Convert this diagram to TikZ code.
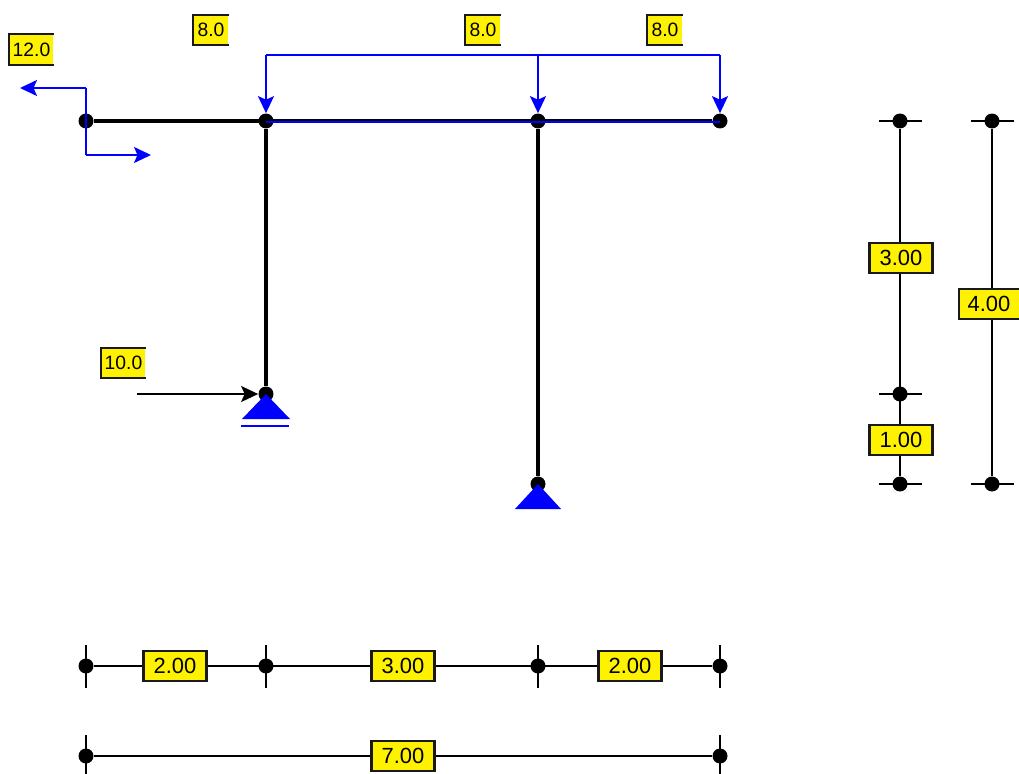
\documentclass[tikz,border=0pt]{standalone}
\usepackage{fontspec}
\setmainfont{Liberation Sans}
\usetikzlibrary{arrows.meta,calc}
\tikzset{
  joint/.style={circle, fill=black, inner sep=0, minimum size=.3cm},
  dimlabel/.style={draw=black!90, line width=1.3pt, fill=yellow, inner sep=0, minimum width=1.26cm, minimum height=.6cm, font=\fontsize{12.5}{13}\selectfont},
  loadlabel/.style={fill=yellow, inner sep=0, minimum width=.88cm, minimum height=.6cm, font=\fontsize{11}{12}\selectfont},
  shortlabel/.style={loadlabel, minimum width=.7cm},
  openedge/.style={draw=black!90, line width=1.3pt},
  member/.style={line width=2.3pt},
  dimline/.style={line width=1.1pt, black},
  loadline/.style={line width=1.1pt, blue, ->},
  support/.style={fill=blue}
}
\begin{document}
\begin{tikzpicture}[x=.02cm, y=-.02cm, >={Stealth[length=.34cm, width=.32cm, inset=.07cm]}]
\useasboundingbox (0, 0) rectangle (1019, 774);
% frame joints
\node [joint] (a) at (86, 121) {};
\node [joint] (b) at (266, 121) {};
\node [joint] (c) at (538, 121) {};
\node [joint] (d) at (720, 121) {};
\node [joint] (e) at (266, 394) {};
\node [joint] (f) at (538, 484) {};
% members
\draw [member] (a) -- (d);
\draw [member] (b) -- (e);
\draw [member] (c) -- (f);
% supports
\fill [support] (e.center) -- ++(24, 25) -- ++(-48, 0) -- cycle;
\draw [blue, line width=1.1pt] (241, 426) -- (289, 426);
\fill [support] (f.center) -- ++(23, 25) -- ++(-46, 0) -- cycle;
% loads
\coordinate (top b) at (266, 55);
\coordinate (top c) at (538, 55);
\coordinate (top d) at (720, 55);
\coordinate (left top) at (86, 88);
\coordinate (left bot) at (86, 155);
\coordinate (left end) at (20, 88);
\coordinate (right end) at (151, 155);
\coordinate (push) at (137, 394);
\draw [blue, line width=1.1pt] ($(b.center) + (0, 1)$) -- ($(d.center) + (0, 1)$);
\draw [blue, line width=1.1pt] (top b) -- (top d);
\draw [loadline] (top b) -- (b.north);
\draw [loadline] (top c) -- (c.north);
\draw [loadline] (top d) -- (d.north);
\draw [blue, line width=1.1pt] (left top) -- (left bot);
\draw [loadline] (left top) -- (left end);
\draw [loadline] (left bot) -- (right end);
\draw [dimline, ->] (push) -- (e.west);
% load labels
\node [loadlabel] (load a) at (31.5, 49.5) {12.0};
\node [shortlabel] (load b) at (211, 30) {8.0};
\node [shortlabel] (load c) at (483, 30) {8.0};
\node [shortlabel] (load d) at (665, 30) {8.0};
\node [loadlabel] (load e) at (123.5, 363) {10.0};
\foreach \n in {load a, load b, load c, load d, load e}
  \draw [openedge] (\n.north east) -- (\n.north west) -- (\n.south west) -- (\n.south east);
% horizontal dimensions
\foreach \n/\x in {h1/86, h2/266, h3/538, h4/720} {
  \node [joint] (\n) at (\x, 666) {};
  \draw [dimline] (\x, 645) -- (\x, 688);
}
\node [joint] (k1) at (86, 756) {};
\node [joint] (k2) at (720, 756) {};
\draw [dimline] (86, 735) -- (86, 774);
\draw [dimline] (720, 735) -- (720, 774);
\draw [dimline] (h1) -- (h4);
\draw [dimline] (k1) -- (k2);
\node [dimlabel] at (175, 666) {2.00};
\node [dimlabel] at (403, 666) {3.00};
\node [dimlabel] at (630, 666) {2.00};
\node [dimlabel] at (403, 756) {7.00};
% vertical dimensions
\foreach \n/\y in {v1/121, v2/394, v3/484} {
  \node [joint] (\n) at (900, \y) {};
  \draw [dimline] (879, \y) -- (922, \y);
}
\node [joint] (w1) at (992, 121) {};
\node [joint] (w2) at (992, 484) {};
\draw [dimline] (971, 121) -- (1014, 121);
\draw [dimline] (971, 484) -- (1014, 484);
\draw [dimline] (v1) -- (v3);
\draw [dimline] (w1) -- (w2);
\node [dimlabel] at (901, 258) {3.00};
\node [dimlabel] at (901, 440) {1.00};
\node [loadlabel, minimum width=1.2cm, font=\fontsize{12.5}{13}\selectfont] (dim w) at (989, 304) {4.00};
\draw [openedge] (dim w.north east) -- (dim w.north west) -- (dim w.south west) -- (dim w.south east);
\end{tikzpicture}
\end{document}
